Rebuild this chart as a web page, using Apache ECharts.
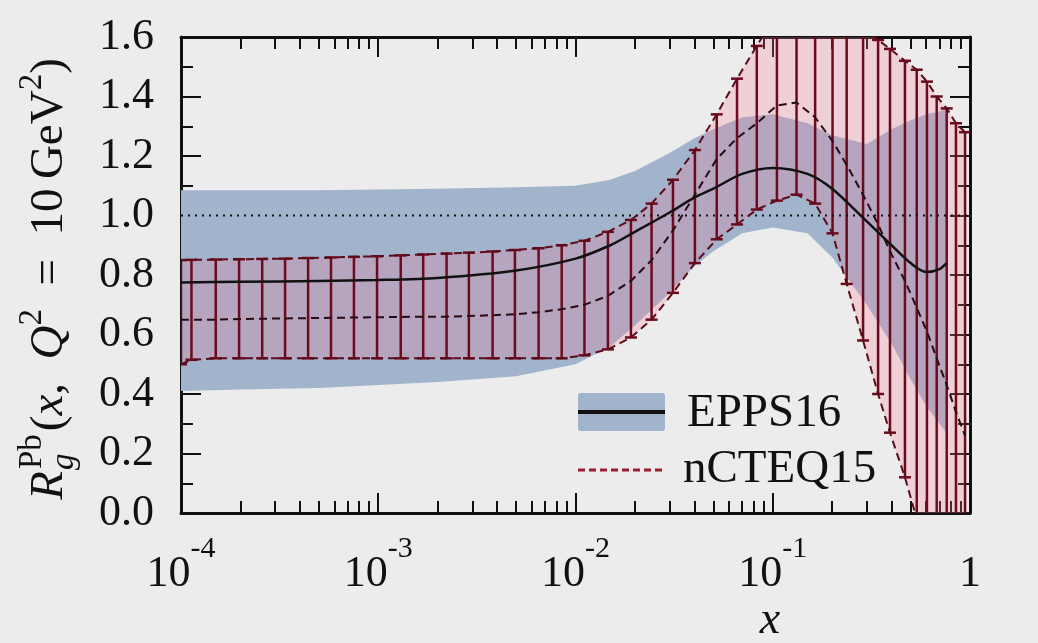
<!DOCTYPE html>
<html>
<head>
<meta charset="utf-8">
<script src="https://cdn.jsdelivr.net/npm/echarts@6/dist/echarts.min.js"></script>
<style>
  html, body { margin: 0; padding: 0; background: #ececec; }
  #chart { width: 1038px; height: 643px; }
</style>
</head>
<body>
<div id="chart"></div>
<script>
// ---- axis ticks ----
const xMajorTicks = [1e-4, 1e-3, 1e-2, 1e-1, 1];
const xTickBase = ['10', '10', '10', '10', '1'];
const xTickExp = ['-4', '-3', '-2', '-1', ''];
const xMinorTicks = [];
[1e-4, 1e-3, 1e-2, 1e-1].forEach(function (d) {
  for (let k = 2; k <= 9; k++) xMinorTicks.push(+(d * k).toPrecision(3));
});
const yMin = 0, yMax = 1.6, yStep = 0.2;
const unityLevel = 1.0;

// ---- EPPS16 (central value and uncertainty band) ----
const eppsX       = [1e-4, 2e-4, 5e-4, 1e-3, 2e-3, 5e-3, 1e-2, 1.5e-2, 2e-2, 3e-2, 4e-2, 5e-2, 7e-2, 0.1, 0.15, 0.2, 0.3, 0.4, 0.5, 0.6, 0.7, 0.76];
const eppsCentral = [0.775, 0.777, 0.78, 0.783, 0.79, 0.815, 0.855, 0.9, 0.945, 1.01, 1.06, 1.09, 1.14, 1.16, 1.14, 1.09, 0.98, 0.9, 0.84, 0.81, 0.82, 0.84];
const eppsUpper   = [1.085, 1.085, 1.085, 1.087, 1.09, 1.095, 1.10, 1.12, 1.15, 1.21, 1.26, 1.29, 1.33, 1.34, 1.31, 1.27, 1.24, 1.29, 1.32, 1.34, 1.35, 1.36];
const eppsLower   = [0.41, 0.415, 0.42, 0.43, 0.44, 0.46, 0.50, 0.56, 0.63, 0.74, 0.83, 0.88, 0.94, 0.96, 0.94, 0.86, 0.70, 0.57, 0.45, 0.36, 0.30, 0.27];

// ---- nCTEQ15 (grid points, central value, error band) ----
const ncteqX = [1e-4, 1.13e-4, 1.5e-4, 1.97e-4, 2.58e-4, 3.37e-4, 4.41e-4, 5.76e-4, 7.53e-4, 9.86e-4,
  1.3e-3, 1.69e-3, 2.22e-3, 2.88e-3, 3.8e-3, 4.93e-3, 6.5e-3, 8.51e-3, 1.11e-2, 1.46e-2,
  1.91e-2, 2.43e-2, 3.12e-2, 4.03e-2, 5.2e-2, 6.59e-2, 8.3e-2, 0.105, 0.132, 0.164,
  0.201, 0.237, 0.287, 0.342, 0.393, 0.468, 0.537, 0.605, 0.678, 0.762, 0.849, 0.944];
const ncteqCentral = [0.65, 0.65, 0.65, 0.652, 0.653, 0.654, 0.655, 0.656, 0.657, 0.658,
  0.659, 0.66, 0.66, 0.662, 0.665, 0.668, 0.675, 0.685, 0.70, 0.73,
  0.78, 0.85, 0.95, 1.07, 1.19, 1.26, 1.31, 1.37, 1.38, 1.33,
  1.25, 1.17, 1.07, 0.97, 0.88, 0.78, 0.69, 0.61, 0.52, 0.43, 0.34, 0.26];
const ncteqUpper = [0.85, 0.851, 0.852, 0.853, 0.854, 0.855, 0.857, 0.859, 0.861, 0.863,
  0.866, 0.869, 0.872, 0.875, 0.879, 0.884, 0.89, 0.90, 0.915, 0.945,
  0.985, 1.04, 1.12, 1.22, 1.34, 1.46, 1.57, 1.68, 1.76, 1.80,
  1.78, 1.72, 1.64, 1.59, 1.56, 1.52, 1.49, 1.45, 1.40, 1.36, 1.31, 1.28];
const ncteqLower = [0.50, 0.515, 0.52, 0.52, 0.52, 0.52, 0.52, 0.52, 0.52, 0.52,
  0.52, 0.52, 0.52, 0.52, 0.52, 0.52, 0.52, 0.52, 0.53, 0.55,
  0.59, 0.65, 0.74, 0.84, 0.92, 0.97, 1.02, 1.05, 1.07, 1.04,
  0.94, 0.77, 0.58, 0.40, 0.27, 0.12, -0.02, -0.15, -0.30, -0.45, -0.60, -0.70];

// ---- styling ----
const SERIF = 'Liberation Serif, DejaVu Serif, Times New Roman, serif';
const BLUE = '#a2b3cc';
const PINK = 'rgba(245,125,148,0.25)';
const BAR_RED = '#6d0a1d';
const NCTEQ_LINE = '#5a0c1b';
const INK = '#111111';

const pairs = (xs, ys) => xs.map((x, i) => [x, ys[i]]);

const chart = echarts.init(document.getElementById('chart'), null, { renderer: 'canvas' });

// rotated y-axis title built from text pieces (sub/superscripts)
const measureCtx = document.createElement('canvas').getContext('2d');
function textWidth(t, size, italic) {
  measureCtx.font = (italic ? 'italic ' : '') + size + 'px ' + SERIF;
  return measureCtx.measureText(t).width;
}
function buildYTitle() {
  const M = 47, S = 33;
  const pieces = [];
  let cx = 0;
  function add(t, size, italic, dy) {
    pieces.push({ t: t, size: size, italic: italic, x: cx, dy: dy });
    cx += textWidth(t, size, italic);
  }
  add('R', M, true, 0);
  const scriptX = cx;
  pieces.push({ t: 'g', size: S, italic: true, x: scriptX + 1, dy: 14 });
  pieces.push({ t: 'Pb', size: S, italic: false, x: scriptX + 2, dy: -18 });
  cx = scriptX + Math.max(textWidth('g', S, true), textWidth('Pb', S, false)) + 5;
  add('(', M, false, 0);
  add('x', M, true, 0);
  add(',\u2002', M, false, 0);
  add('Q', M, true, 0);
  add('2', S, false, -18);
  add('\u2002=\u2002', M, false, 0);
  add('10\u2009GeV', M, false, 0);
  add('2', S, false, -18);
  add(')', M, false, 0);
  const total = cx;
  const centerY = 279;
  return {
    type: 'group',
    x: 50, y: centerY + total / 2,
    rotation: Math.PI / 2,
    children: pieces.map(function (p) {
      return {
        type: 'text', x: p.x, y: p.dy,
        style: {
          text: p.t, fontSize: p.size, fontFamily: SERIF,
          fontStyle: p.italic ? 'italic' : 'normal',
          fill: INK, align: 'left', verticalAlign: 'middle'
        }
      };
    })
  };
}

// filled band between two curves, drawn as one polygon through the axes' scales
function bandSeries(name, xs, lo, hi, color, z) {
  return {
    type: 'custom', name: name, clip: true, z: z, silent: true,
    data: xs.map(function (x, i) { return [x, lo[i], hi[i]]; }),
    encode: { x: 0, y: [1, 2] },
    renderItem: function (params, api) {
      if (params.dataIndex !== 0) return null;
      const top = xs.map(function (x, i) { return api.coord([x, hi[i]]); });
      const bottom = xs.map(function (x, i) { return api.coord([x, lo[i]]); }).reverse();
      return { type: 'polygon', shape: { points: top.concat(bottom) }, style: { fill: color } };
    }
  };
}

const gridBox = { left: 181, right: 68, top: 37, bottom: 130 };

function xAxisDef(position, withLabels, minor) {
  return {
    type: 'log', logBase: 10, min: 1e-4, max: 1, position: position,
    axisLine: { show: !minor, onZero: false, lineStyle: { color: INK, width: 3 } },
    splitLine: { show: false },
    axisTick: {
      show: true, inside: true, length: minor ? 12 : 20,
      customValues: minor ? xMinorTicks : xMajorTicks,
      lineStyle: { color: INK, width: 2 }
    },
    axisLabel: withLabels ? {
      show: true, margin: 21, customValues: xMajorTicks,
      formatter: function (v) {
        let i = 0, best = Infinity;
        xMajorTicks.forEach(function (t, k) {
          const d = Math.abs(Math.log10(t) - Math.log10(v));
          if (d < best) { best = d; i = k; }
        });
        return xTickExp[i] ? '{b|' + xTickBase[i] + '}{s|' + xTickExp[i] + '}' : '{b|' + xTickBase[i] + '}';
      },
      rich: {
        b: { fontSize: 44, fontFamily: SERIF, color: INK, lineHeight: 80 },
        s: { fontSize: 30, fontFamily: SERIF, color: INK, verticalAlign: 'top' }
      }
    } : { show: false }
  };
}

function yAxisDef(position, withLabels) {
  return {
    type: 'value', min: yMin, max: yMax, interval: yStep, position: position,
    axisLine: { show: true, onZero: false, lineStyle: { color: INK, width: 3 } },
    splitLine: { show: false },
    axisTick: { show: true, inside: true, length: 20, lineStyle: { color: INK, width: 2 } },
    minorTick: { show: true, splitNumber: 2, length: 12, lineStyle: { color: INK, width: 2 } },
    axisLabel: withLabels ? {
      show: true, margin: 27, fontSize: 44, fontFamily: SERIF, color: INK,
      formatter: function (v) { return v.toFixed(1); }
    } : { show: false }
  };
}

const option = {
  animation: false,
  backgroundColor: '#ececec',
  grid: gridBox,
  xAxis: [
    xAxisDef('bottom', true, false),
    xAxisDef('bottom', false, true),
    xAxisDef('top', false, false),
    xAxisDef('top', false, true)
  ],
  yAxis: [yAxisDef('left', true), yAxisDef('right', false)],
  series: [
    bandSeries('EPPS16 band', eppsX, eppsLower, eppsUpper, BLUE, 1),
    bandSeries('nCTEQ15 band', ncteqX, ncteqLower, ncteqUpper, PINK, 2),
    // nCTEQ15 error bars
    {
      type: 'custom', name: 'nCTEQ15 errors', clip: true, z: 3,
      data: ncteqX.map(function (x, i) { return [x, ncteqLower[i], ncteqUpper[i]]; }),
      encode: { x: 0, y: [1, 2] },
      renderItem: function (params, api) {
        const x = api.value(0), lo = api.value(1), hi = api.value(2);
        const pLo = api.coord([x, lo]), pHi = api.coord([x, hi]);
        const cs = params.coordSys;
        const top = cs.y, bottom = cs.y + cs.height;
        const y1 = Math.max(pHi[1], top), y2 = Math.min(pLo[1], bottom);
        const st = { stroke: BAR_RED, lineWidth: 2.5 };
        const children = [{ type: 'line', shape: { x1: pHi[0], y1: y1, x2: pLo[0], y2: y2 }, style: st }];
        if (pHi[1] >= top) children.push({ type: 'line', shape: { x1: pHi[0] - 6, y1: pHi[1], x2: pHi[0] + 6, y2: pHi[1] }, style: st });
        if (pLo[1] <= bottom) children.push({ type: 'line', shape: { x1: pLo[0] - 6, y1: pLo[1], x2: pLo[0] + 6, y2: pLo[1] }, style: st });
        return { type: 'group', children: children };
      }
    },
    // EPPS16 central
    { type: 'line', name: 'EPPS16', data: pairs(eppsX, eppsCentral), smooth: 0.3, showSymbol: false,
      lineStyle: { color: INK, width: 2.5 }, z: 4 },
    // unity reference
    { type: 'line', name: 'unity', data: [[xMajorTicks[0], unityLevel], [xMajorTicks[xMajorTicks.length - 1], unityLevel]],
      showSymbol: false, lineStyle: { color: INK, width: 2, type: [2, 5] }, z: 4 },
    // nCTEQ15 curves
    { type: 'line', name: 'nCTEQ15 upper', data: pairs(ncteqX, ncteqUpper), showSymbol: false,
      lineStyle: { color: NCTEQ_LINE, width: 2, type: [8, 5] }, z: 5 },
    { type: 'line', name: 'nCTEQ15 lower', data: pairs(ncteqX, ncteqLower), showSymbol: false,
      lineStyle: { color: NCTEQ_LINE, width: 2, type: [8, 5] }, z: 5 },
    { type: 'line', name: 'nCTEQ15', data: pairs(ncteqX, ncteqCentral), showSymbol: false,
      lineStyle: { color: '#2a0a12', width: 2, type: [8, 5] }, z: 5 }
  ],
  graphic: [
    buildYTitle(),
    { type: 'text', x: 770, y: 621, style: { text: 'x', fontSize: 46, fontStyle: 'italic', fontFamily: SERIF, fill: INK, align: 'center', verticalAlign: 'middle' } },
    // legend
    { type: 'rect', shape: { x: 578, y: 393, width: 87, height: 38, r: 3 }, style: { fill: BLUE } },
    { type: 'line', shape: { x1: 578, y1: 412, x2: 665, y2: 412 }, style: { stroke: INK, lineWidth: 4 } },
    { type: 'text', x: 687, y: 414, style: { text: 'EPPS16', fontSize: 47, fontFamily: SERIF, fill: INK, align: 'left', verticalAlign: 'middle' } },
    { type: 'line', shape: { x1: 578, y1: 470, x2: 662, y2: 470 }, style: { stroke: '#9a1a32', lineWidth: 3, lineDash: [7, 4] } },
    { type: 'text', x: 683, y: 470, style: { text: 'nCTEQ15', fontSize: 47, fontFamily: SERIF, fill: INK, align: 'left', verticalAlign: 'middle' } }
  ]
};

chart.setOption(option);
</script>
</body>
</html>
